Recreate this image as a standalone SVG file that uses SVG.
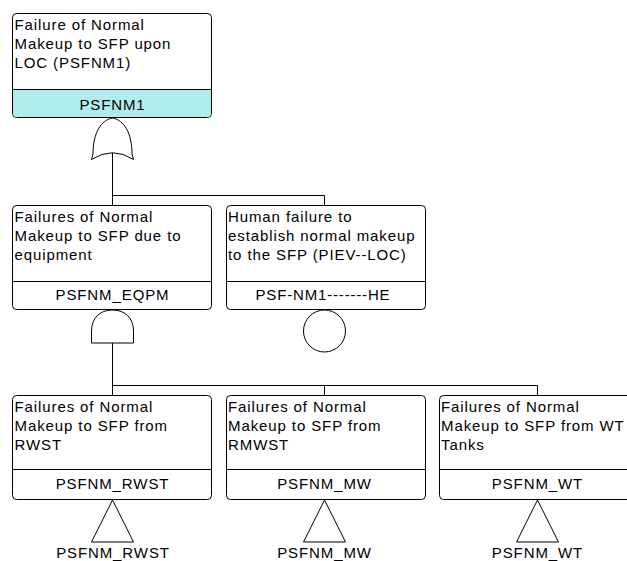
<svg xmlns="http://www.w3.org/2000/svg" width="627" height="561" viewBox="0 0 627 561">
<style>
.box{fill:#fff;stroke:#000;stroke-width:1}
.hl{fill:#b0ecec;stroke:none}
.ln{stroke:#000;stroke-width:1;fill:none}
.gate{fill:#fff;stroke:#000;stroke-width:1}
text{font-family:"Liberation Sans",Arial,sans-serif;font-size:15px;letter-spacing:0.9px;fill:#000}
.lbl{text-anchor:middle}
</style>
<rect width="627" height="561" fill="#fff"/>
<g id="connectors">
<line class="ln" x1="112.5" y1="153" x2="112.5" y2="195.5"/>
<line class="ln" x1="112.5" y1="195.5" x2="324.5" y2="195.5"/>
<line class="ln" x1="112.5" y1="195.5" x2="112.5" y2="205.5"/>
<line class="ln" x1="324.5" y1="195.5" x2="324.5" y2="205.5"/>
<line class="ln" x1="112.5" y1="343" x2="112.5" y2="385.5"/>
<line class="ln" x1="112.5" y1="385.5" x2="537.5" y2="385.5"/>
<line class="ln" x1="112.5" y1="385.5" x2="112.5" y2="395.5"/>
<line class="ln" x1="324.5" y1="385.5" x2="324.5" y2="395.5"/>
<line class="ln" x1="537.5" y1="385.5" x2="537.5" y2="395.5"/>
</g>
<g id="PSFNM1">
<rect class="box" x="12.5" y="13.5" width="199" height="104" rx="4"/>
<path class="hl" d="M13,89.5 H211 V113 Q211,117 207,117 H17 Q13,117 13,113 Z"/>
<line class="ln" x1="12.5" y1="89.5" x2="211.5" y2="89.5"/>
<text x="14.5" y="29.5">Failure of Normal</text>
<text x="14.5" y="48.5">Makeup to SFP upon</text>
<text x="14.5" y="67.5">LOC (PSFNM1)</text>
<text class="lbl" x="112.5" y="109.5">PSFNM1</text>
<path class="gate" d="M112.5,118 C101,120 93,133 93,154 L91.5,159.5 Q112.5,146 133.5,159.5 L132,154 C132,133 124,120 112.5,118 Z"/>
</g>
<g id="PSFNM_EQPM">
<rect class="box" x="12.5" y="205.5" width="199" height="104" rx="4"/>
<line class="ln" x1="12.5" y1="281.5" x2="211.5" y2="281.5"/>
<text x="14.5" y="221.5">Failures of Normal</text>
<text x="14.5" y="240.5">Makeup to SFP due to</text>
<text x="14.5" y="259.5">equipment</text>
<text class="lbl" x="112.5" y="300">PSFNM_EQPM</text>
<path class="gate" d="M91.5,343 V331 C91.5,318 100,310 112.5,310 C125,310 133.5,318 133.5,331 V343 Z"/>
</g>
<g id="PSF-NM1-------HE">
<rect class="box" x="226.5" y="205.5" width="199" height="104" rx="4"/>
<line class="ln" x1="226.5" y1="281.5" x2="425.5" y2="281.5"/>
<text x="228" y="221.5">Human failure to</text>
<text x="228" y="240.5">establish normal makeup</text>
<text x="228" y="259.5">to the SFP (PIEV--LOC)</text>
<text class="lbl" x="323" y="300" textLength="135" lengthAdjust="spacing">PSF-NM1-------HE</text>
<circle class="gate" cx="324.5" cy="331" r="21"/>
</g>
<g id="PSFNM_RWST">
<rect class="box" x="12.5" y="395.5" width="199" height="104" rx="4"/>
<line class="ln" x1="12.5" y1="469.5" x2="211.5" y2="469.5"/>
<text x="14.5" y="411.5">Failures of Normal</text>
<text x="14.5" y="430.5">Makeup to SFP from</text>
<text x="14.5" y="449.5">RWST</text>
<text class="lbl" x="112.5" y="489">PSFNM_RWST</text>
<path class="gate" d="M112.5,500 L91.5,542 H133.5 Z"/>
<text class="lbl" x="113" y="558">PSFNM_RWST</text>
</g>
<g id="PSFNM_MW">
<rect class="box" x="226.5" y="395.5" width="199" height="104" rx="4"/>
<line class="ln" x1="226.5" y1="469.5" x2="425.5" y2="469.5"/>
<text x="228" y="411.5">Failures of Normal</text>
<text x="228" y="430.5">Makeup to SFP from</text>
<text x="228" y="449.5">RMWST</text>
<text class="lbl" x="324.5" y="489">PSFNM_MW</text>
<path class="gate" d="M324.5,500 L303.5,542 H345.5 Z"/>
<text class="lbl" x="324.5" y="558">PSFNM_MW</text>
</g>
<g id="PSFNM_WT">
<rect class="box" x="439.5" y="395.5" width="199" height="104" rx="4"/>
<line class="ln" x1="439.5" y1="469.5" x2="638.5" y2="469.5"/>
<text x="441" y="411.5">Failures of Normal</text>
<text x="441" y="430.5">Makeup to SFP from WT</text>
<text x="441" y="449.5">Tanks</text>
<text class="lbl" x="537.5" y="489">PSFNM_WT</text>
<path class="gate" d="M537.5,500 L516.5,542 H558.5 Z"/>
<text class="lbl" x="537.5" y="558">PSFNM_WT</text>
</g>
</svg>
